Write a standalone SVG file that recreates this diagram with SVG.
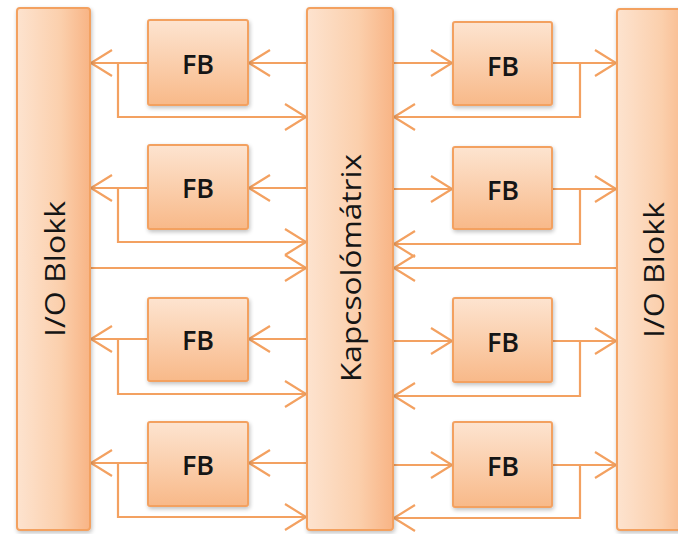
<svg xmlns="http://www.w3.org/2000/svg" width="678" height="534" viewBox="0 0 678 534">
  <defs>
    <linearGradient id="gBar" x1="0" y1="0" x2="1" y2="0">
      <stop offset="0" stop-color="#fde3cf"/>
      <stop offset="0.6" stop-color="#fbcfac"/>
      <stop offset="1" stop-color="#f8b485"/>
    </linearGradient>
    <linearGradient id="gFb" x1="0" y1="0" x2="0" y2="1">
      <stop offset="0" stop-color="#fde4d0"/>
      <stop offset="1" stop-color="#f8b989"/>
    </linearGradient>
    <filter id="shadow" x="-10%" y="-10%" width="130%" height="130%">
      <feGaussianBlur in="SourceAlpha" stdDeviation="2"/>
      <feOffset dx="1" dy="2" result="b"/>
      <feComponentTransfer><feFuncA type="linear" slope="0.25"/></feComponentTransfer>
      <feMerge><feMergeNode/><feMergeNode in="SourceGraphic"/></feMerge>
    </filter>
    <marker id="arrow" markerUnits="userSpaceOnUse" markerWidth="26" markerHeight="30" refX="22" refY="14" orient="auto">
      <path d="M1,1 L22,14 L1,27" fill="none" stroke="#f3a161" stroke-width="2.2"/>
    </marker>
  </defs>
  <style>
    .bar { fill: url(#gBar); stroke: #f3a161; stroke-width: 2; filter: url(#shadow); }
    .fb { fill: url(#gFb); stroke: #f3a161; stroke-width: 2; filter: url(#shadow); }
    .lbl { font-family: "Open Sans", "Liberation Sans", sans-serif; fill: #151515; text-anchor: middle; dominant-baseline: central; }
    .fbt { font-size: 27px; font-weight: 600; }
    .bt { font-size: 27px; font-weight: 500; }
    .wire { fill: none; stroke: #f3a161; stroke-width: 2.2; }
    .arr { marker-end: url(#arrow); }
  </style>
  <rect width="678" height="534" fill="#ffffff"/>

  <!-- connectors -->
  <g id="connectors">
    <!-- left column, one group per row: FB -> I/O, matrix -> FB, feedback loop -> matrix -->
    <path class="wire arr" d="M148,63 H91"/>
    <path class="wire arr" d="M306,63 H249"/>
    <path class="wire arr" d="M118,63 V117 H306"/>

    <path class="wire arr" d="M148,188 H91"/>
    <path class="wire arr" d="M306,188 H249"/>
    <path class="wire arr" d="M118,188 V242 H306"/>

    <path class="wire arr" d="M91,268 H306"/>

    <path class="wire arr" d="M148,339 H91"/>
    <path class="wire arr" d="M306,339 H249"/>
    <path class="wire arr" d="M118,339 V394 H306"/>

    <path class="wire arr" d="M148,463 H91"/>
    <path class="wire arr" d="M306,463 H249"/>
    <path class="wire arr" d="M118,463 V517 H306"/>

    <!-- right column: matrix -> FB, FB -> I/O, feedback loop -> matrix -->
    <path class="wire arr" d="M394,63 H452"/>
    <path class="wire arr" d="M553,63 H616"/>
    <path class="wire arr" d="M580,63 V117 H394"/>

    <path class="wire arr" d="M394,189 H452"/>
    <path class="wire arr" d="M553,189 H616"/>
    <path class="wire arr" d="M580,189 V244 H394"/>

    <path class="wire arr" d="M616,268 H394"/>

    <path class="wire arr" d="M394,341 H452"/>
    <path class="wire arr" d="M553,341 H616"/>
    <path class="wire arr" d="M580,341 V396 H394"/>

    <path class="wire arr" d="M394,465 H452"/>
    <path class="wire arr" d="M553,465 H616"/>
    <path class="wire arr" d="M580,465 V518 H394"/>
  </g>

  <!-- I/O blocks and switch matrix -->
  <g id="io-left">
    <rect class="bar" x="17" y="8" width="73" height="522" rx="3"/>
    <text class="lbl bt" transform="translate(54,269) rotate(-90)" textLength="136" lengthAdjust="spacingAndGlyphs">I/O Blokk</text>
  </g>
  <g id="matrix">
    <rect class="bar" x="307" y="8" width="86" height="522" rx="3"/>
    <text class="lbl bt" transform="translate(350,268) rotate(-90)" textLength="228" lengthAdjust="spacingAndGlyphs">Kapcsolómátrix</text>
  </g>
  <g id="io-right">
    <rect class="bar" x="617" y="9" width="75" height="521" rx="3"/>
    <text class="lbl bt" transform="translate(653,270) rotate(-90)" textLength="136" lengthAdjust="spacingAndGlyphs">I/O Blokk</text>
  </g>

  <!-- function blocks -->
  <g id="fb-l1"><rect class="fb" x="148" y="20" width="100" height="85" rx="2"/><text class="lbl fbt" x="198" y="63">FB</text></g>
  <g id="fb-l2"><rect class="fb" x="148" y="145" width="100" height="84" rx="2"/><text class="lbl fbt" x="198" y="187">FB</text></g>
  <g id="fb-l3"><rect class="fb" x="148" y="298" width="100" height="83" rx="2"/><text class="lbl fbt" x="198" y="339">FB</text></g>
  <g id="fb-l4"><rect class="fb" x="148" y="422" width="100" height="84" rx="2"/><text class="lbl fbt" x="198" y="464">FB</text></g>

  <g id="fb-r1"><rect class="fb" x="453" y="22" width="99" height="83" rx="2"/><text class="lbl fbt" x="503" y="65">FB</text></g>
  <g id="fb-r2"><rect class="fb" x="453" y="147" width="99" height="82" rx="2"/><text class="lbl fbt" x="503" y="189">FB</text></g>
  <g id="fb-r3"><rect class="fb" x="453" y="298" width="99" height="84" rx="2"/><text class="lbl fbt" x="503" y="341">FB</text></g>
  <g id="fb-r4"><rect class="fb" x="453" y="422" width="99" height="85" rx="2"/><text class="lbl fbt" x="503" y="465">FB</text></g>
</svg>
